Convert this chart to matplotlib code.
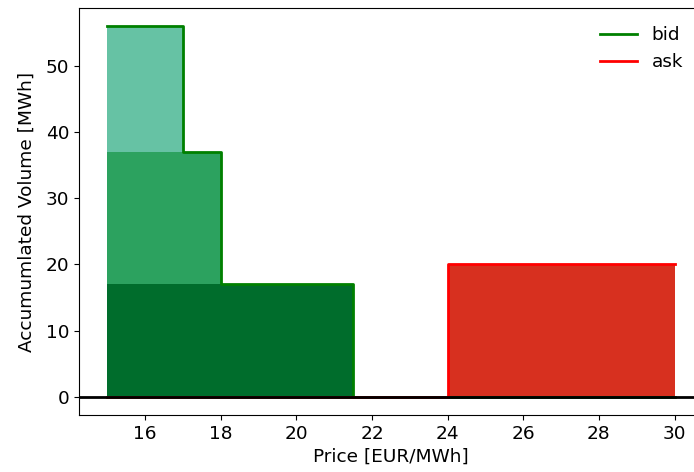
import matplotlib
matplotlib.use("Agg")
import matplotlib.pyplot as plt
import numpy as np

# bid / ask orders
bid_prices = [17, 18, 21.5]
bid_volumes = [19, 20, 17]
ask_prices = [30]
ask_volumes = [20]
price_min = 15
ask_start = 24

bid_colors = ["#66c2a4", "#2ca25f", "#006d2c"]
ask_color = "#d7301f"

plt.rcParams["font.size"] = 13.3

fig = plt.figure(figsize=(6.94, 4.72), dpi=100)
ax = fig.add_axes([0.1138, 0.12, 0.899, 0.864])

# accumulated bid volume (orders sorted by price, highest price at bottom)
acc = np.cumsum(bid_volumes[::-1])[::-1]
bottoms = list(acc[1:]) + [0]
for p, top, bot, c in zip(bid_prices, acc, bottoms, bid_colors):
    ax.fill_between([price_min, p], bot, top, color=c, linewidth=0)

# step outline of bid curve
bx = [price_min]
by = [acc[0]]
for i, p in enumerate(bid_prices):
    bx += [p, p]
    nxt = acc[i + 1] if i + 1 < len(acc) else 0
    by += [acc[i], nxt]
ax.plot(bx + [ask_prices[-1]], by + [0], color="green", linewidth=2, label="bid")

# ask curve
ask_acc = np.cumsum(ask_volumes)
ax.fill_between([ask_start, ask_prices[0]], 0, ask_acc[0], color=ask_color, linewidth=0)
ax.plot([price_min, ask_start, ask_start, ask_prices[0]], [0, 0, ask_acc[0], ask_acc[0]],
        color="red", linewidth=2, label="ask")

ax.axhline(0, color="black", linewidth=2)

ax.set_xlim(14.25, 30.75)
ax.set_ylim(-2.8, 58.8)
ax.set_xticks(np.arange(16, 31, 2))
ax.set_xlabel("Price [EUR/MWh]", labelpad=3)
ax.set_ylabel("Accumumlated Volume [MWh]", labelpad=7)
ax.legend(loc="upper right", frameon=False, bbox_to_anchor=(0.995, 0.995))

fig.savefig("out.png", dpi=100)
